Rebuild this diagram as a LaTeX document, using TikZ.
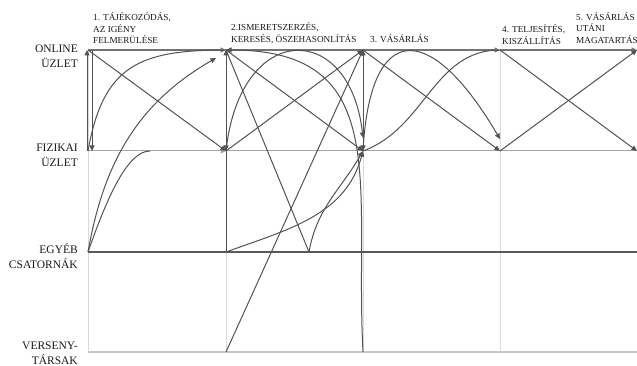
\documentclass[tikz,border=0pt]{standalone}
\usepackage{fontspec}
\setmainfont{Liberation Serif}
\usetikzlibrary{arrows.meta}

\begin{document}
\begin{tikzpicture}[x=1pt, y=1pt, >={Triangle[length=5.5pt,width=5pt]},
        conn/.style={black!68, line width=1pt},
        onl/.style={black!55, line width=1.1pt},
        fiz/.style={black!35, line width=1pt},
        egy/.style={black!65, line width=1.8pt},
        ver/.style={black!22, line width=1.2pt},
        guide/.style={black!15, line width=0.9pt},
        rowlabel/.style={anchor=east, align=right, inner sep=0pt, text=black!90,
            font=\fontsize{11.5}{15}\selectfont},
        phase/.style={anchor=west, align=left, inner sep=0pt, text=black!90,
            font=\fontsize{9.2}{11.5}\selectfont}]
        \useasboundingbox (0,0) rectangle (637,-366);
        % ==== GRID POINTS ====
        \coordinate (o1) at (88,-50);  \coordinate (f1) at (88,-151);
        \coordinate (e1) at (88,-252); \coordinate (v1) at (88,-352);
        \coordinate (o2) at (226,-50);  \coordinate (f2) at (226,-151);
        \coordinate (e2) at (226,-252); \coordinate (v2) at (226,-352);
        \coordinate (o3) at (363,-50);  \coordinate (f3) at (363,-151);
        \coordinate (e3) at (363,-252); \coordinate (v3) at (363,-352);
        \coordinate (o4) at (500,-50);  \coordinate (f4) at (500,-151);
        \coordinate (v4) at (500,-352);
        \coordinate (o5) at (637,-50);  \coordinate (f5) at (637,-151);
        \coordinate (e5) at (637,-252); \coordinate (v5) at (637,-352);
        \coordinate (fizb) at (150,-151);
        \coordinate (egyb) at (309,-252);
        \coordinate (o2b) at (216,-58);
        \coordinate (f3b) at (363,-138);

        % ==== ROW LABELS ====
        \node[rowlabel] (lonline) at (78,-56) {ONLINE\\ÜZLET};
        \node[rowlabel] (lfizikai) at (78,-155.5) {FIZIKAI\\ÜZLET};
        \node[rowlabel] (legyeb) at (78,-256) {EGYÉB\\CSATORNÁK};
        \node[rowlabel] (lverseny) at (78,-353) {VERSENY-\\TÁRSAK};

        % ==== PHASES ====
        \node[phase] (p1) at (93,-28.5) {1. TÁJÉKOZÓDÁS,\\AZ IGÉNY\\FELMERÜLÉSE};
        \node[phase] (p2) at (231,-33.5) {2.ISMERETSZERZÉS,\\KERESÉS, ÖSZEHASONLÍTÁS};
        \node[phase, anchor=base west] (p3) at (370,-42.5) {3. VÁSÁRLÁS};
        \node[phase] (p4) at (502,-34.5) {4. TELJESÍTÉS,\\KISZÁLLÍTÁS};
        \node[phase] (p5) at (576,-28) {5. VÁSÁRLÁS\\UTÁNI\\MAGATARTÁS};

        % ==== GUIDES AND CHANNEL LINES ====
        \draw[guide] (o1) -- (v1);
        \draw[guide] (e2) -- (v2);
        \draw[guide] (f3) -- (v3);
        \draw[guide] (o4) -- (v4);
        \draw[ver] (v1) -- (v5);
        \draw[fiz,->] (f1) -- (f2);
        \draw[fiz] (f2) -- (f5);
        \draw[egy] (e1) -- (e5);
        \draw[onl,->] (o1) -- (o2);
        \draw[onl] (o2) -- (o3);
        \draw[onl,->] (o3) -- (o4);
        \draw[onl,->] (o4) -- (o5);

        % ==== PHASE 1 ====
        \draw[conn,->] ([xshift=-1pt]f1) -- ([xshift=-1pt]o1);
        \draw[conn,->] ([xshift=4pt]o1) -- ([xshift=4pt]f1);
        \draw[conn,->] (o1) -- (f2);
        \draw[conn] (f1) to[out=80, in=180, looseness=1.3] (o2);
        \draw[conn,->] (e1) to[out=80, in=210] (o2b);
        \draw[conn] (e1) .. controls (108,-195) and (128,-151) .. (fizb);

        % ==== PHASE 2 ====
        \draw[conn,<->] (o2) -- (f2);
        \draw[conn] (f2) -- (e2);
        \draw[conn,->] (o2) -- (f3);
        \draw[conn] (o2) -- (egyb);
        \draw[conn,->] (egyb) to[out=80, in=-120] (f3);
        \draw[conn,->] (e2) to[out=20, in=-105] (f3);
        \draw[conn,->] (f2) -- (o3);
        \draw[conn,->] (v2) -- (o3);
        \draw[conn,->] (v3) to[out=93, in=0, looseness=1.3] (o2);
        \draw[conn,->] (f2) .. controls (240,-20) and (350,-20) .. (f3b);

        % ==== PHASE 3 ====
        \draw[conn,<->] (o3) -- (f3);
        \draw[conn,->] (f3) .. controls (370,-20) and (430,-20) .. ([yshift=12pt]f4);
        \draw[conn,->] (o3) -- (f4);
        \draw[conn] (f3) to[out=20, in=180] (o4);

        % ==== PHASE 4 ====
        \draw[conn,->] (o4) -- (f5);
        \draw[conn,->] (f4) -- (o5);
\end{tikzpicture}
\end{document}
